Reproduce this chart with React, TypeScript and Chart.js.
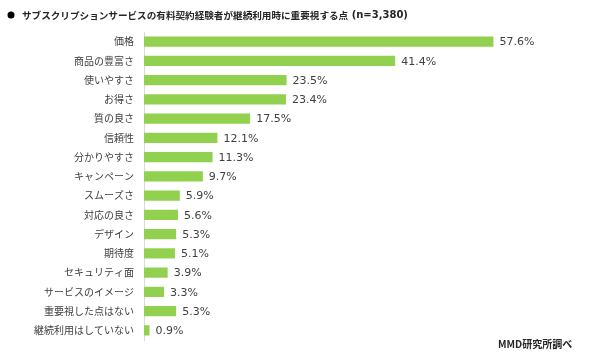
import React, { useEffect, useRef } from "react";
import { Chart, registerables } from "chart.js";

Chart.register(...registerables);

const categories = [
  "価格",
  "商品の豊富さ",
  "使いやすさ",
  "お得さ",
  "質の良さ",
  "信頼性",
  "分かりやすさ",
  "キャンペーン",
  "スムーズさ",
  "対応の良さ",
  "デザイン",
  "期待度",
  "セキュリティ面",
  "サービスのイメージ",
  "重要視した点はない",
  "継続利用はしていない",
];
const values = [57.6, 41.4, 23.5, 23.4, 17.5, 12.1, 11.3, 9.7, 5.9, 5.6, 5.3, 5.1, 3.9, 3.3, 5.3, 0.9];
const titleText = "サブスクリプションサービスの有料契約経験者が継続利用時に重要視する点";
const titleN = " (n=3,380)";
const sourceText = "MMD研究所調べ";

const JP = "'Noto Sans CJK JP', 'Noto Sans', sans-serif";
const LAT = "'DejaVu Sans', Verdana, sans-serif";

const decor = {
  id: "decor",
  afterDatasetsDraw(chart: any) {
    const ctx = chart.ctx;
    const meta = chart.getDatasetMeta(0);
    ctx.save();
    ctx.fillStyle = "#404040";
    ctx.font = "11px " + LAT;
    ctx.textAlign = "left";
    ctx.textBaseline = "middle";
    meta.data.forEach((bar: any, i: number) => {
      ctx.fillText(values[i].toFixed(1) + "%", bar.x + 6, bar.y + 1);
    });
    ctx.restore();
  },
  afterDraw(chart: any) {
    const ctx = chart.ctx;
    ctx.save();
    ctx.fillStyle = "#000";
    ctx.beginPath();
    ctx.arc(11, 15, 3.5, 0, Math.PI * 2);
    ctx.fill();
    ctx.fillStyle = "#262626";
    ctx.textBaseline = "middle";
    ctx.textAlign = "left";
    ctx.font = "bold 9.6px " + JP;
    ctx.fillText(titleText, 22, 15);
    const w = ctx.measureText(titleText).width;
    ctx.font = "bold 10px " + LAT;
    ctx.fillText(titleN, 22 + w, 15);
    ctx.font = "bold 10px " + JP;
    ctx.fillText(sourceText, 498, 344);
    ctx.restore();
  },
};

export default function App() {
  const ref = useRef<HTMLCanvasElement>(null);
  useEffect(() => {
    document.body.style.margin = "0";
    const chart = new Chart(ref.current!, {
      type: "bar",
      data: {
        labels: categories,
        datasets: [
          {
            data: values,
            backgroundColor: "#92D050",
            barPercentage: 0.53,
            categoryPercentage: 1,
          },
        ],
      },
      options: {
        indexAxis: "y",
        animation: false,
        responsive: false,
        layout: { padding: { top: 32, bottom: 21, right: 92, left: 0 } },
        plugins: { legend: { display: false }, tooltip: { enabled: false } },
        scales: {
          x: { display: false, min: 0, max: 60 },
          y: {
            afterFit(scale: any) {
              scale.width = 144;
            },
            grid: { display: false, drawTicks: false },
            border: { display: true, color: "#d9d9d9" },
            ticks: {
              color: "#404040",
              padding: 10,
              font: { family: JP, size: 10 },
            },
          },
        },
      },
      plugins: [decor],
    });
    return () => chart.destroy();
  }, []);
  return <canvas ref={ref} width={600} height={361} style={{ display: "block" }} />;
}
